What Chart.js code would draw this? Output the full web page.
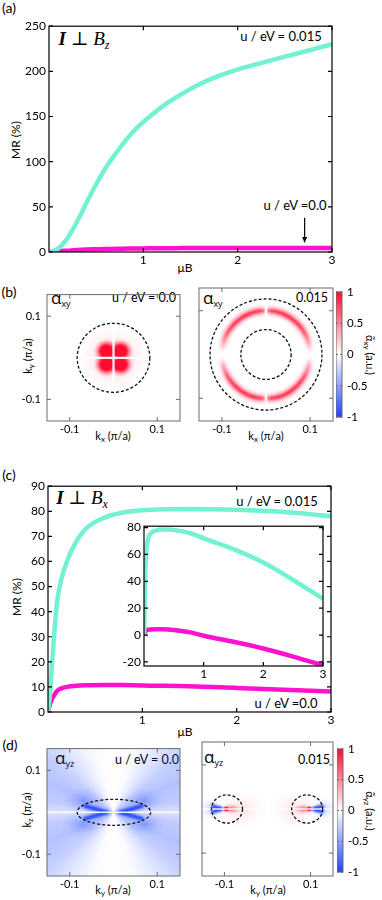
<!DOCTYPE html>
<html>
<head>
<meta charset="utf-8">
<script src="https://cdn.jsdelivr.net/npm/chart.js@4.4.1/dist/chart.umd.min.js"></script>
<style>
  body { margin: 0; background: #fff; }
  #fig { position: relative; width: 382px; height: 900px; overflow: hidden;
         font-family: Lato, "Liberation Sans", sans-serif; color: #000; }
  #fig canvas { position: absolute; }
  .t { position: absolute; white-space: nowrap; font-size: 12px; line-height: 1; transform: translate(-50%, -50%); }
  .l { transform: translate(0, -50%); }
  .rl { transform: translate(-50%, -50%) rotate(-90deg); }
  .rr { transform: translate(-50%, -50%) rotate(90deg); }
  .math { font-family: "Liberation Serif", "DejaVu Serif", serif; font-size: 19px; }
  .greek { font-family: "Open Sans", "DejaVu Sans", sans-serif; font-size: 17px; }
  .greek sub { font-size: 9px; vertical-align: -3px; }
  .k sub { font-size: 8px; vertical-align: -2px; }
  .math sub { font-size: 12px; vertical-align: -4px; }
  .panel { font-size: 14px; }
</style>
</head>
<body>
<div id="fig">
  <!-- (a) -->
  <div class="t panel" style="left:9px;top:8px">(a)</div>
  <div class="t math" style="left:84px;top:40px"><b><i>I</i></b> ⊥ <i>B<sub>z</sub></i></div>
  <div class="t" style="left:281px;top:36px;font-size:13px">u / eV = 0.015</div>
  <div class="t" style="left:295px;top:205px;font-size:13px">u / eV =0.0</div>
  <div class="t rl" style="left:16px;top:140px">MR (%)</div>
  <div class="t" style="left:185px;top:268px">μB</div>

  <!-- (b) -->
  <div class="t panel" style="left:9px;top:292px">(b)</div>
  <div class="t l greek" style="left:51px;top:298px">α<sub>xy</sub></div>
  <div class="t" style="left:144px;top:298px;font-size:12.5px">u / eV = 0.0</div>
  <div class="t l greek" style="left:203px;top:298px">α<sub>xy</sub></div>
  <div class="t" style="left:312px;top:298px;font-size:12.5px">0.015</div>
  <div class="t rl k" style="left:28px;top:356px;font-size:11px">k<sub>y</sub> (π/a)</div>
  <div class="t k" style="left:113px;top:436px;font-size:11px">k<sub>x</sub> (π/a)</div>
  <div class="t k" style="left:266px;top:436px;font-size:11px">k<sub>x</sub> (π/a)</div>
  <div class="t rr k" style="left:369px;top:355px;font-size:11px">α̃<sub>xy</sub> (a.u.)</div>

  <!-- (c) -->
  <div class="t panel" style="left:9px;top:475px">(c)</div>
  <div class="t math" style="left:82px;top:499px"><b><i>I</i></b> ⊥ <i>B<sub>x</sub></i></div>
  <div class="t" style="left:277px;top:501px;font-size:13px">u / eV = 0.015</div>
  <div class="t" style="left:207px;top:570px;font-size:13.5px">λ / eV. Å&nbsp; = 1.0</div>
  <div class="t" style="left:286px;top:703px;font-size:13px">u / eV =0.0</div>
  <div class="t rl" style="left:17px;top:597px">MR (%)</div>
  <div class="t" style="left:185px;top:732px">μB</div>

  <!-- (d) -->
  <div class="t panel" style="left:10px;top:745px">(d)</div>
  <div class="t l greek" style="left:55px;top:758px">α<sub>yz</sub></div>
  <div class="t" style="left:147px;top:760px;font-size:12.5px">u / eV = 0.0</div>
  <div class="t l greek" style="left:204px;top:757px">α<sub>yz</sub></div>
  <div class="t" style="left:314px;top:760px;font-size:12.5px">0.015</div>
  <div class="t rl k" style="left:27px;top:810px;font-size:11px">k<sub>z</sub> (π/a)</div>
  <div class="t k" style="left:113px;top:890px;font-size:11px">k<sub>y</sub> (π/a)</div>
  <div class="t k" style="left:268px;top:890px;font-size:11px">k<sub>y</sub> (π/a)</div>
  <div class="t rr k" style="left:369px;top:811px;font-size:11px">α̃<sub>yz</sub> (a.u.)</div>
</div>

<script>
// DATA: (a) I ⊥ Bz
const muBA = [0, 0.1, 0.2, 0.3, 0.4, 0.5, 0.6, 0.7, 0.8, 0.9, 1.0, 1.2, 1.4, 1.6, 1.8, 2.0, 2.2, 2.4, 2.6, 2.8, 3.0];
const mrA015 = [0, 4, 16, 34, 55, 75, 93, 108, 122, 134, 144, 161, 174.5, 186, 195, 202, 208, 213.5, 219, 224.5, 230];
const mrA00 = [0, 0.8, 1.5, 2.2, 2.7, 3.0, 3.3, 3.5, 3.7, 3.9, 4.0, 4.2, 4.3, 4.4, 4.4, 4.5, 4.5, 4.5, 4.5, 4.5, 4.5];
const aTicksX = [1, 2, 3];
const aTicksY = [0, 50, 100, 150, 200, 250];
const arrowMuB = 2.71;
const arrowMR = [38, 10];

// DATA: (c) I ⊥ Bx
const muBC = [0, 0.02, 0.04, 0.07, 0.1, 0.15, 0.2, 0.3, 0.4, 0.6, 0.8, 1.0, 1.5, 2.0, 2.5, 3.0];
const mrC015 = [0, 7, 18, 33, 45, 54, 60, 68, 73, 77.5, 79.5, 80.4, 80.9, 80.6, 79.7, 78];
const mrC00 = [0, 3, 5, 7, 8.5, 9.5, 10, 10.5, 10.7, 10.8, 10.8, 10.6, 10.3, 9.6, 8.9, 8.2];
const cTicksX = [1, 2, 3];
const cTicksY = [0, 10, 20, 30, 40, 50, 60, 70, 80, 90];

// DATA: (c) inset, lambda = 1.0
const muBIn = [0, 0.01, 0.02, 0.04, 0.07, 0.1, 0.2, 0.3, 0.4, 0.6, 0.8, 1.0, 1.5, 2.0, 2.5, 3.0];
const mrIn015 = [0, 20, 45, 63, 72, 75, 77.8, 78.6, 78.6, 77.5, 75.5, 72, 64, 54, 41, 27];
const mrIn00 = [0, 1.5, 2.5, 3.5, 4, 4.2, 4.3, 4.3, 4.1, 3.2, 1.8, -0.5, -5, -10, -16, -22.5];
const inTicksX = [1, 2, 3];
const inTicksY = [-20, 0, 20, 40, 60, 80];

// DATA: heat maps (k in pi/a, values in a.u.)
const kLim = 0.152;
const heatTicks = [-0.1, 0.1];
const cbTicks = [-1, -0.5, 0, 0.5, 1];

// (b) left, alpha_xy, u = 0.0
const bL = {
  blobKx: [0, -0.016, 0.016, -0.016, 0.016],
  blobKy: [0, 0.016, 0.016, -0.016, -0.016],
  blobRx: [0.078, 0.03, 0.03, 0.03, 0.03],
  blobRy: [0.078, 0.03, 0.03, 0.03, 0.03],
  blobVal: [0.28, 1, 1, 1, 1],
  blobCore: [0, 0.45, 0.45, 0.45, 0.45],
  whiteH: [[-0.072, 0.072]],
  whiteV: [[-0.072, 0.072]],
  whiteW: 2.2,
  loopKx: [0], loopKy: [0], loopRx: [0.083], loopRy: [0.083],
};
// (b) right, alpha_xy, u = 0.015
const bR = {
  ringR: 0.1, ringW: 0.008,
  ringDeg: [0, 6, 15, 30, 45, 60, 75, 84, 88, 90],
  ringVal: [0, 0.05, 0.3, 0.65, 0.8, 0.82, 0.8, 0.72, 0.4, 0],
  whiteH: [[-0.125, -0.075], [0.075, 0.125]],
  whiteV: [[-0.125, -0.075], [0.075, 0.125]],
  loopKx: [0, 0], loopKy: [0, 0], loopRx: [0.127, 0.057], loopRy: [0.127, 0.057],
};
// (d) left, alpha_yz, u = 0.0
const dL = {
  sectorDeg: [0, 10, 25, 40, 55, 70, 90],
  sectorVal: [-0.16, -0.28, -0.33, -0.26, -0.13, -0.03, 0],
  blobKx: [-0.07, 0.07, -0.07, 0.07, -0.04, 0.04],
  blobKy: [0.028, 0.028, -0.028, -0.028, 0, 0],
  blobRx: [0.05, 0.05, 0.05, 0.05, 0.035, 0.035],
  blobRy: [0.032, 0.032, 0.032, 0.032, 0.022, 0.022],
  blobVal: [-0.32, -0.32, -0.32, -0.32, -0.35, -0.35],
  blobCore: [0, 0, 0, 0, 0, 0],
  veeTipKx: [-0.014, 0.014],
  veeArmKx: [-0.068, 0.068],
  veeArmKy: [0.016, 0.016],
  veeVal: [-0.95, -0.95],
  whiteH: [[-0.16, 0.16]],
  loopKx: [0.001], loopKy: [0], loopRx: [0.084], loopRy: [0.031],
};
// (d) right, alpha_yz, u = 0.015
const dR = {
  blobKx: [-0.06, 0.06, -0.13, 0.13, -0.083, 0.083, -0.096, 0.097, -0.113, 0.113],
  blobKy: [0, 0, 0, 0, 0, 0, 0, 0, 0, 0],
  blobRx: [0.06, 0.06, 0.035, 0.035, 0.025, 0.025, 0.01, 0.01, 0.012, 0.012],
  blobRy: [0.045, 0.045, 0.03, 0.03, 0.013, 0.013, 0.008, 0.008, 0.01, 0.01],
  blobVal: [0.12, 0.12, -0.22, -0.22, 0.5, 0.5, 1, 1, -0.6, -0.6],
  blobCore: [0, 0, 0, 0, 0.2, 0.2, 0.4, 0.4, 0.2, 0.2],
  veeTipKx: [-0.107, 0.107],
  veeArmKx: [-0.13, 0.13],
  veeArmKy: [0.007, 0.007],
  veeVal: [-0.9, -0.9],
  whiteH: [[-0.16, 0.16]],
  loopKx: [-0.094, 0.092], loopKy: [0, 0], loopRx: [0.036, 0.036], loopRy: [0.032, 0.032],
};

// STYLE
const CYAN = '#72f2d2';
const MAGENTA = '#ff12cf';
const RED = [255, 12, 48];
const BLUE = [28, 68, 255];

Chart.defaults.font.family = 'Lato, "Liberation Sans", sans-serif';
Chart.defaults.font.size = 12;
Chart.defaults.color = '#000';

const fig = document.getElementById('fig');
const xy = (xs, ys) => xs.map((x, i) => ({ x, y: ys[i] }));
const setTicks = (vals) => (s) => { s.ticks = vals.map((v) => ({ value: v })); };

function tint(v, k = 1) {
  const c = v < 0 ? BLUE : RED;
  return `rgba(${c[0]},${c[1]},${c[2]},${Math.min(1, Math.abs(v) * k)})`;
}
function solid(v) {
  const c = v < 0 ? BLUE : RED;
  const a = Math.abs(v);
  return `rgb(${c.map((ch) => Math.round(255 + (ch - 255) * a)).join(',')})`;
}

// PLUGINS
const framePlugin = {
  id: 'frame',
  beforeDraw(chart, args, o) {
    if (!o.fill) return;
    const { ctx, chartArea: a } = chart;
    ctx.save();
    ctx.fillStyle = '#fff';
    ctx.fillRect(a.left, a.top, a.width, a.height);
    ctx.restore();
  },
  afterDraw(chart, args, o) {
    const { ctx, chartArea: a, scales } = chart;
    const len = o.len || 4;
    ctx.save();
    ctx.strokeStyle = o.color || '#000';
    ctx.lineWidth = o.width || 1.2;
    ctx.beginPath();
    if (!o.noX) {
      scales.x.ticks.forEach((t) => {
        const px = scales.x.getPixelForValue(t.value);
        ctx.moveTo(px, a.bottom); ctx.lineTo(px, a.bottom - len);
        ctx.moveTo(px, a.top); ctx.lineTo(px, a.top + len);
      });
    }
    scales.y.ticks.forEach((t) => {
      const py = scales.y.getPixelForValue(t.value);
      ctx.moveTo(a.left, py); ctx.lineTo(a.left + len, py);
      ctx.moveTo(a.right, py); ctx.lineTo(a.right - len, py);
    });
    ctx.stroke();
    ctx.strokeRect(a.left, a.top, a.width, a.height);
    ctx.restore();
  },
};

const arrowPlugin = {
  id: 'arrowNote',
  afterDatasetsDraw(chart, args, o) {
    if (o.x === undefined) return;
    const { ctx, scales: { x, y } } = chart;
    const px = x.getPixelForValue(o.x);
    const y0 = y.getPixelForValue(o.from);
    const y1 = y.getPixelForValue(o.to);
    ctx.save();
    ctx.strokeStyle = '#000';
    ctx.fillStyle = '#000';
    ctx.lineWidth = 1.2;
    ctx.beginPath(); ctx.moveTo(px, y0); ctx.lineTo(px, y1 - 5); ctx.stroke();
    ctx.beginPath(); ctx.moveTo(px - 2.5, y1 - 6); ctx.lineTo(px + 2.5, y1 - 6); ctx.lineTo(px, y1); ctx.closePath(); ctx.fill();
    ctx.restore();
  },
};

function conic(ctx, cx, cy, degs, vals, k) {
  const g = ctx.createConicGradient(0, cx, cy);
  for (let q = 0; q < 4; q++) {
    degs.forEach((d, i) => {
      g.addColorStop((q * 90 + (q % 2 ? 90 - d : d)) / 360, tint(vals[i], k));
    });
  }
  return g;
}

const heatPlugin = {
  id: 'heat',
  beforeDatasetsDraw(chart, args, o) {
    const { ctx, chartArea: a, scales: { x, y } } = chart;
    const X = (v) => x.getPixelForValue(v);
    const Y = (v) => y.getPixelForValue(v);
    const W = (v) => Math.abs(X(v) - X(0));
    const H = (v) => Math.abs(Y(v) - Y(0));
    ctx.save();
    ctx.beginPath(); ctx.rect(a.left, a.top, a.width, a.height); ctx.clip();

    // angular background
    if (o.sectorDeg) {
      ctx.fillStyle = conic(ctx, X(0), Y(0), o.sectorDeg, o.sectorVal, 1);
      ctx.fillRect(a.left, a.top, a.width, a.height);
    }
    // soft blobs
    (o.blobKx || []).forEach((kx, i) => {
      const v = o.blobVal[i];
      const c = o.blobCore[i];
      const g = ctx.createRadialGradient(0, 0, 0, 0, 0, 1);
      g.addColorStop(0, tint(v));
      g.addColorStop(c, tint(v));
      g.addColorStop(c + (1 - c) * 0.35, tint(v, 0.5));
      g.addColorStop(c + (1 - c) * 0.7, tint(v, 0.15));
      g.addColorStop(1, tint(v, 0));
      ctx.save();
      ctx.translate(X(kx), Y(o.blobKy[i]));
      ctx.scale(W(o.blobRx[i]), H(o.blobRy[i]));
      ctx.fillStyle = g;
      ctx.fillRect(-1, -1, 2, 2);
      ctx.restore();
    });
    // ring
    if (o.ringR) {
      ctx.filter = 'blur(1.5px)';
      ctx.strokeStyle = conic(ctx, X(0), Y(0), o.ringDeg, o.ringVal, 0.35);
      ctx.lineWidth = W(o.ringW * 2.6);
      ctx.beginPath(); ctx.arc(X(0), Y(0), W(o.ringR), 0, 2 * Math.PI); ctx.stroke();
      ctx.filter = 'blur(0.8px)';
      ctx.strokeStyle = conic(ctx, X(0), Y(0), o.ringDeg, o.ringVal, 1);
      ctx.lineWidth = W(o.ringW);
      ctx.beginPath(); ctx.arc(X(0), Y(0), W(o.ringR), 0, 2 * Math.PI); ctx.stroke();
    }
    // streaks
    if (o.veeTipKx) {
      ctx.filter = 'blur(0.9px)';
      ctx.lineWidth = 3.8;
      ctx.lineJoin = 'round';
      o.veeTipKx.forEach((tip, i) => {
        ctx.strokeStyle = tint(o.veeVal[i]);
        ctx.beginPath();
        ctx.moveTo(X(o.veeArmKx[i]), Y(o.veeArmKy[i]));
        ctx.lineTo(X(tip), Y(0));
        ctx.lineTo(X(o.veeArmKx[i]), Y(-o.veeArmKy[i]));
        ctx.stroke();
      });
    }
    // white nodal lines
    ctx.filter = 'blur(0.5px)';
    ctx.strokeStyle = 'rgba(255,255,255,0.95)';
    ctx.lineWidth = o.whiteW || 1.6;
    ctx.beginPath();
    (o.whiteH || []).forEach(([k0, k1]) => { ctx.moveTo(X(k0), Y(0)); ctx.lineTo(X(k1), Y(0)); });
    (o.whiteV || []).forEach(([k0, k1]) => { ctx.moveTo(X(0), Y(k0)); ctx.lineTo(X(0), Y(k1)); });
    ctx.stroke();
    // dashed Fermi contours
    ctx.filter = 'none';
    ctx.setLineDash([3, 2]);
    ctx.lineWidth = 1.3;
    ctx.strokeStyle = '#111';
    (o.loopKx || []).forEach((kx, i) => {
      ctx.beginPath();
      ctx.ellipse(X(kx), Y(o.loopKy[i]), W(o.loopRx[i]), H(o.loopRy[i]), 0, 0, 2 * Math.PI);
      ctx.stroke();
    });
    ctx.restore();
  },
};

// CHART HELPERS
function makeChart(area, pad, config) {
  const cv = document.createElement('canvas');
  const w = area.w + pad.l + pad.r;
  const h = area.h + pad.t + pad.b;
  cv.width = w;
  cv.height = h;
  Object.assign(cv.style, { left: area.x - pad.l + 'px', top: area.y - pad.t + 'px', width: w + 'px', height: h + 'px' });
  fig.appendChild(cv);
  const o = config.options;
  const yRight = o.scales.y.position === 'right';
  const xShown = o.scales.x.display !== false;
  o.responsive = false;
  o.animation = false;
  o.events = [];
  o.layout = { padding: { top: pad.t, bottom: xShown ? 0 : pad.b, left: yRight ? pad.l : 0, right: yRight ? 0 : pad.r } };
  o.scales.y.afterFit = (s) => { s.width = yRight ? pad.r : pad.l; };
  if (xShown) o.scales.x.afterFit = (s) => { s.height = pad.b; };
  return new Chart(cv, config);
}

const noGrid = { display: false, drawTicks: false };
const quiet = { legend: { display: false }, tooltip: { enabled: false } };

function lineDs(data, color) {
  return { data, borderColor: color, borderWidth: 4.5, pointRadius: 0, cubicInterpolationMode: 'monotone', fill: false };
}

function mrChart(area, pad, xs, cyanVals, magVals, tx, ty, yMin, yMax, extra = {}) {
  return makeChart(area, pad, {
    type: 'line',
    data: { datasets: [lineDs(xy(xs, cyanVals), CYAN), lineDs(xy(xs, magVals), MAGENTA)] },
    options: {
      plugins: { ...quiet, frame: { len: 4, fill: !!extra.fill }, arrowNote: extra.arrow || {} },
      scales: {
        x: { type: 'linear', min: 0, max: 3, afterBuildTicks: setTicks(tx),
             ticks: { padding: 1, maxRotation: 0, autoSkip: false }, grid: noGrid, border: { display: false } },
        y: { type: 'linear', min: yMin, max: yMax, afterBuildTicks: setTicks(ty),
             ticks: { padding: 3, autoSkip: false }, grid: noGrid, border: { display: false } },
      },
    },
    plugins: [framePlugin, arrowPlugin],
  });
}

function heatChart(area, pad, heat, showY) {
  return makeChart(area, pad, {
    type: 'scatter',
    data: { datasets: [] },
    options: {
      plugins: { ...quiet, heat, frame: { color: '#6b6b6b', width: 1, len: 4 } },
      scales: {
        x: { type: 'linear', min: -kLim, max: kLim, afterBuildTicks: setTicks(heatTicks),
             ticks: { padding: 2, font: { size: 11 }, callback: (v) => v.toFixed(1) }, grid: noGrid, border: { display: false } },
        y: { type: 'linear', min: -kLim, max: kLim, afterBuildTicks: setTicks(heatTicks),
             ticks: { display: showY, padding: 6, font: { size: 11 }, callback: (v) => v.toFixed(1) }, grid: noGrid, border: { display: false } },
      },
    },
    plugins: [heatPlugin, framePlugin],
  });
}

function colorbar(area) {
  return makeChart(area, { l: 0, t: 8, r: 32, b: 8 }, {
    type: 'bar',
    data: {
      labels: [''],
      datasets: [{
        data: [[-1, 1]],
        barPercentage: 1,
        categoryPercentage: 1,
        borderWidth: 0,
        backgroundColor: (c) => {
          const { ctx, chartArea } = c.chart;
          if (!chartArea) return '#fff';
          const g = ctx.createLinearGradient(0, chartArea.bottom, 0, chartArea.top);
          cbTicks.forEach((v) => g.addColorStop((v + 1) / 2, solid(v)));
          return g;
        },
      }],
    },
    options: {
      plugins: { ...quiet, frame: { color: '#6b6b6b', width: 1, len: 2, noX: true } },
      scales: {
        x: { display: false },
        y: { position: 'right', min: -1, max: 1, afterBuildTicks: setTicks(cbTicks),
             ticks: { padding: 5, font: { size: 11.5 }, callback: (v) => String(v) },
             grid: noGrid, border: { display: false } },
      },
    },
    plugins: [framePlugin],
  });
}

// BUILD
mrChart({ x: 49, y: 24, w: 283, h: 228 }, { l: 49, t: 8, r: 8, b: 16 },
  muBA, mrA015, mrA00, aTicksX, aTicksY, 0, 250,
  { arrow: { x: arrowMuB, from: arrowMR[0], to: arrowMR[1] } });

heatChart({ x: 47, y: 288, w: 133, h: 133 }, { l: 47, t: 6, r: 4, b: 14 }, bL, true);
heatChart({ x: 199, y: 288, w: 134, h: 133 }, { l: 2, t: 6, r: 1, b: 14 }, bR, false);
colorbar({ x: 336, y: 288, w: 6, h: 133 });

mrChart({ x: 48, y: 484, w: 283, h: 228 }, { l: 48, t: 8, r: 8, b: 14 },
  muBC, mrC015, mrC00, cTicksX, cTicksY, 0, 90);
mrChart({ x: 144, y: 524, w: 179, h: 142 }, { l: 24, t: 8, r: 6, b: 14 },
  muBIn, mrIn015, mrIn00, inTicksX, inTicksY, -23, 81, { fill: true });

heatChart({ x: 47, y: 742, w: 133, h: 134 }, { l: 47, t: 6, r: 4, b: 14 }, dL, true);
heatChart({ x: 202, y: 742, w: 131, h: 134 }, { l: 2, t: 6, r: 1, b: 14 }, dR, false);
colorbar({ x: 337, y: 745, w: 6, h: 131 });
</script>
</body>
</html>
